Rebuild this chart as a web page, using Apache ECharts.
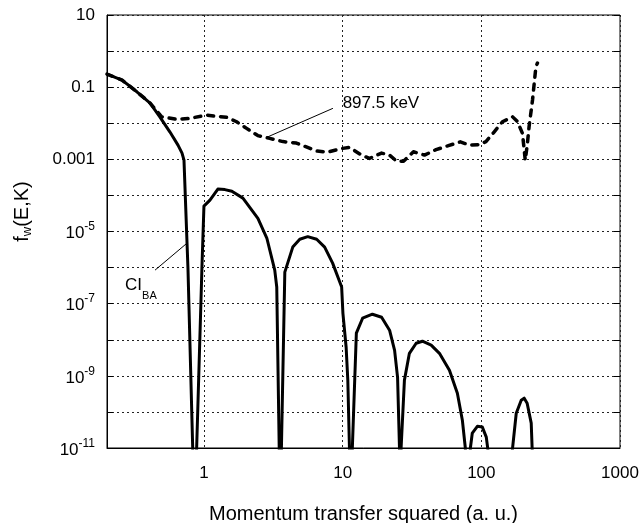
<!DOCTYPE html>
<html><head><meta charset="utf-8">
<script src="https://cdn.jsdelivr.net/npm/echarts@6/dist/echarts.min.js"></script>
<style>html,body{margin:0;padding:0;background:#fff}#c{width:639px;height:523px}</style>
</head><body><div id="c"></div>
<script>
// ---- data ----
const ciX = [0.2,0.257,0.33,0.409,0.482,0.569,0.65,0.695,0.718,0.767,0.83,0.857,0.886,0.967,1.0,1.105,1.26,1.416,1.59,1.91,2.45,2.84,3.24,3.35,3.49,3.55,3.62,3.83,4.37,4.91,5.6,6.5,7.42,8.47,9.84,10.05,10.6,10.9,11.2,11.4,11.75,12.56,13.93,16.4,19.1,21.8,23.7,24.9,25.7,26.1,26.4,27.9,30.3,33.9,37.6,43.5,49.9,58.9,67.2,73.0,76.7,79.9,83.4,86.1,93.6,101.7,108.6,112,134,167,178.6,194,203.8,214,229,233,236];
const ciY = [0.231,0.157,0.0733,0.0363,0.0148,0.0057,0.00248,0.00149,9.5e-4,9.6e-7,1e-11,1e-13,1e-11,9.6e-7,5.05e-5,7.4e-5,1.5e-4,1.45e-4,1.3e-4,8.4e-5,2.3e-5,6.6e-6,8.5e-7,2.9e-7,1e-11,1e-13,1e-11,7.5e-7,3.7e-6,6.1e-6,7.2e-6,6.1e-6,3.7e-6,1.33e-6,2.9e-7,5.4e-8,6.2e-9,7.6e-10,1e-11,1e-13,1e-11,1.52e-8,3.95e-8,5.1e-8,4.2e-8,1.84e-8,5.1e-9,9.1e-10,1e-11,1e-13,1e-11,7.6e-10,4.2e-9,8.0e-9,9.1e-9,7.1e-9,4.2e-9,1.43e-9,3.3e-10,5.9e-11,1e-11,1e-13,1e-11,2.6e-11,4.0e-11,3.8e-11,2.0e-11,8e-12,1e-13,8e-12,9.2e-11,2.1e-10,2.4e-10,1.74e-10,4.9e-11,8e-12,1e-13];

const keVX = [0.2,0.257,0.33,0.409,0.496,0.636,0.793,1.046,1.2,1.456,1.72,2.03,2.445,2.98,3.72,4.64,5.18,6.47,7.8,9.79,11.2,13.7,15.6,19.1,21.8,24.5,27.5,32.4,38.9,47.2,57.9,70.6,82,96.8,108,124,142,168,182.5,198,207.5,215,221,234,247.5,254];
const keVY = [0.231,0.157,0.0733,0.0363,0.0151,0.0128,0.01365,0.01686,0.0158,0.01456,0.0110,0.00721,0.00455,0.00381,0.0031,0.00282,0.0024,0.0017,0.00159,0.00199,0.00214,0.00131,0.00106,0.00149,0.00131,8.9e-4,8.9e-4,0.00162,0.00131,0.00186,0.0024,0.00306,0.00248,0.00256,0.0031,0.0058,0.011,0.0151,0.011,0.00524,9.5e-4,0.00277,0.008,0.044,0.368,0.467];

const xTickLabels = ['1','10','100','1000'];
const yTickExp = [1,-1,-3,-5,-7,-9,-11];
const yTickBase = ['10','0.1','0.001','10','10','10','10'];
const yTickSup = ['','','','-5','-7','-9','-11'];

const keVLabel = '897.5 keV';
const keVLeader = [[2.83,0.00406],[8.51,0.0259]];
const keVLabelAt = [10.0,0.0363];
const ciLabelMain = 'CI', ciLabelSub = 'BA';
const ciLeader = [[0.444,8.5e-7],[0.755,4.75e-6]];
const ciLabelAt = [0.270,2.52e-7];

const xName = 'Momentum transfer squared (a. u.)';
// ----------------------------------------------

const zip = (a,b) => a.map((v,i)=>[v,b[i]]);
const FONT = 'Liberation Sans, Arial, sans-serif';

const chart = echarts.init(document.getElementById('c'), null, {renderer:'canvas'});
const gridLine = {show:true, lineStyle:{color:'#222', width:1, type:[2,3]}};

chart.setOption({
  animation:false,
  backgroundColor:'#fff',
  grid:{left:107, right:19, top:15, bottom:75, show:true, borderColor:'#000', borderWidth:1, containLabel:false, outerBoundsMode:'none'},
  xAxis:{
    type:'log', logBase:10, min:0.2, max:1000,
    axisLine:{show:true, lineStyle:{color:'#000', width:1}},
    axisTick:{show:false},
    splitLine:gridLine,
    axisLabel:{color:'#000', fontFamily:FONT, fontSize:17, margin:17,
      formatter:(v)=>{const e=Math.log10(v); const r=Math.round(e); if(Math.abs(e-r)>1e-6) return ''; const i=r; return (i>=0 && i<xTickLabels.length)? xTickLabels[i] : '';}},
    name:xName, nameLocation:'middle', nameGap:56,
    nameTextStyle:{color:'#000', fontFamily:FONT, fontSize:20}
  },
  yAxis:[{
    type:'log', logBase:10, min:1e-11, max:10, interval:1,
    axisLine:{show:true, lineStyle:{color:'#000', width:1}},
    axisTick:{show:true, inside:true, length:6, lineStyle:{color:'#000'}},
    splitLine:gridLine,
    axisLabel:{color:'#000', fontFamily:FONT, fontSize:17, margin:12,
      formatter:(v)=>{const e=Math.round(Math.log10(v)); const i=yTickExp.indexOf(e); if(i<0) return ''; return yTickSup[i] ? '{b|'+yTickBase[i]+'}{sup|'+yTickSup[i]+'}' : '{n|'+yTickBase[i]+'}';},
      rich:{
        n:{fontFamily:FONT, fontSize:17, color:'#000'},
        b:{fontFamily:FONT, fontSize:17, color:'#000', padding:[4,0,0,0], verticalAlign:'top'},
        sup:{fontFamily:FONT, fontSize:12, color:'#000', verticalAlign:'top'}
      }},
    name:'f{sub|w}(E,K)', nameLocation:'middle', nameGap:73, nameRotate:90,
    nameTextStyle:{color:'#000', fontFamily:FONT, fontSize:20, padding:[0,0,0,40],
      rich:{sub:{fontFamily:FONT, fontSize:13, color:'#000', padding:[11,0,0,0], verticalAlign:'top'}}}
  },{
    type:'log', logBase:10, min:1e-11, max:10, interval:1, position:'right',
    axisLine:{show:false}, axisLabel:{show:false}, splitLine:{show:false},
    axisTick:{show:true, inside:true, length:6, lineStyle:{color:'#000'}}
  }],
  series:[
    {
      name:'CI_BA', type:'line', data:zip(ciX,ciY), showSymbol:false, symbol:'none', clip:true,
      lineStyle:{color:'#000', width:3, join:'round'},
      markLine:{silent:true, symbol:['none','none'], label:{show:false},
        lineStyle:{color:'#000', width:1, type:'solid'},
        data:[[{coord:ciLeader[0]},{coord:ciLeader[1]}]]},
      markPoint:{silent:true, symbol:'circle', symbolSize:0,
        data:[{coord:ciLabelAt, label:{show:true, position:'right', distance:0,
          formatter:'{m|'+ciLabelMain+'}{s|'+ciLabelSub+'}',
          rich:{m:{fontFamily:FONT, fontSize:17, color:'#000', lineHeight:18, verticalAlign:'top'},
                s:{fontFamily:FONT, fontSize:11, color:'#000', padding:[14,0,0,0], verticalAlign:'top'}}}}]}
    },
    {
      name:'897.5 keV', type:'line', data:zip(keVX,keVY), showSymbol:false, symbol:'none', clip:true,
      lineStyle:{color:'#000', width:3.5, type:[6,7], cap:'round', join:'round'},
      markLine:{silent:true, symbol:['none','none'], label:{show:false},
        lineStyle:{color:'#000', width:1, type:'solid'},
        data:[[{coord:keVLeader[0]},{coord:keVLeader[1]}]]},
      markPoint:{silent:true, symbol:'circle', symbolSize:0,
        data:[{coord:keVLabelAt, label:{show:true, position:'right', distance:0,
          formatter:keVLabel, fontFamily:FONT, fontSize:17, color:'#000'}}]}
    }
  ]
});
</script></body></html>
